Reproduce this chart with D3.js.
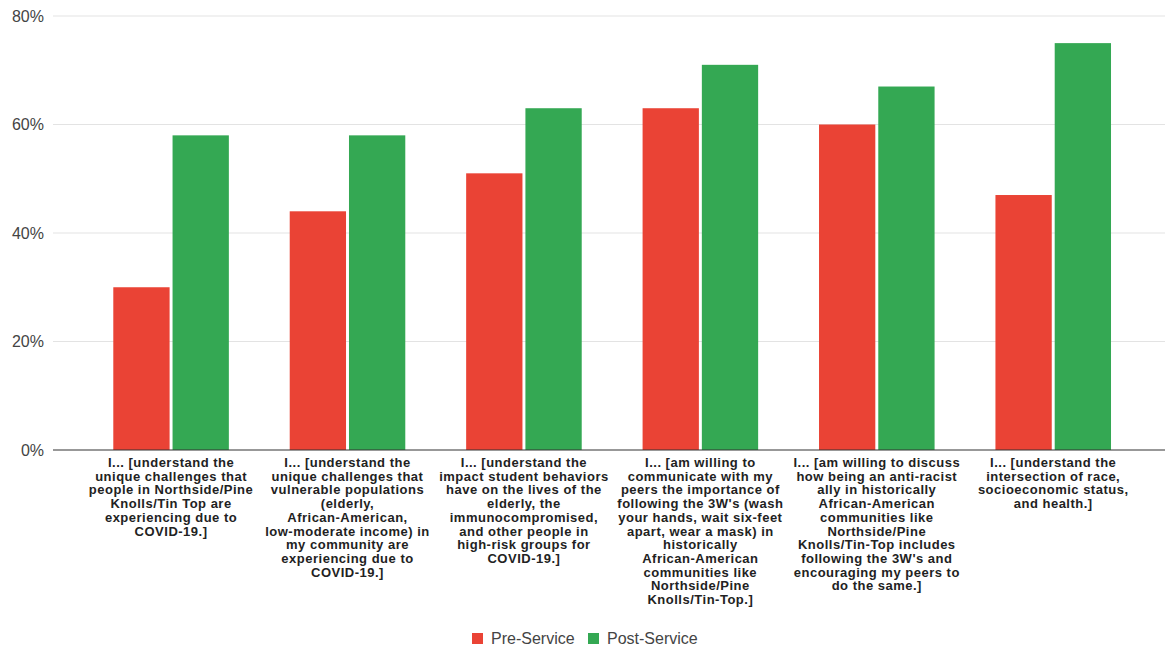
<!DOCTYPE html>
<html><head><meta charset="utf-8">
<script src="https://cdn.jsdelivr.net/npm/d3@7"></script>
<style>body{margin:0;background:#fff;}svg{display:block;}</style>
</head><body>
<svg id="c" width="1165" height="649"></svg>
<script>
const categories = [
  ["I... [understand the","unique challenges that","people in Northside/Pine","Knolls/Tin Top are","experiencing due to","COVID-19.]"],
  ["I... [understand the","unique challenges that","vulnerable populations","(elderly,","African-American,","low-moderate income) in","my community are","experiencing due to","COVID-19.]"],
  ["I... [understand the","impact student behaviors","have on the lives of the","elderly, the","immunocompromised,","and other people in","high-risk groups for","COVID-19.]"],
  ["I... [am willing to","communicate with my","peers the importance of","following the 3W's (wash","your hands, wait six-feet","apart, wear a mask) in","historically","African-American","communities  like","Northside/Pine","Knolls/Tin-Top.]"],
  ["I... [am willing to discuss","how being an anti-racist","ally in historically","African-American","communities like","Northside/Pine","Knolls/Tin-Top includes","following the 3W's and","encouraging my peers to","do the same.]"],
  ["I... [understand the","intersection of race,","socioeconomic status,","and health.]"]
];
const seriesNames = ["Pre-Service","Post-Service"];
const preService = [30, 44, 51, 63, 60, 47];
const postService = [58, 58, 63, 71, 67, 75];
const yTicks = [0, 20, 40, 60, 80];
const colors = ["#ea4335","#34a853"];

(function(){
const svg = d3.select("#c");
const mLeft = 53, mRight = 1165, mTop = 16, mBottom = 450;
const y = d3.scaleLinear().domain([0,80]).range([mBottom, mTop]);
const x0 = d3.scaleBand().domain(d3.range(categories.length)).range([83.3, 1141]).paddingInner(0.345).paddingOuter(0.17);
const x1 = d3.scaleBand().domain(seriesNames).range([0, x0.bandwidth()]).paddingInner(0.05);

svg.append("g").selectAll("line").data(yTicks.filter(t=>t>0)).join("line")
  .attr("x1", mLeft).attr("x2", mRight).attr("y1", d=>y(d)).attr("y2", d=>y(d))
  .attr("stroke", "#e3e3e3").attr("stroke-width", 1);

const yAxis = d3.axisLeft(y).tickValues(yTicks).tickFormat(d=>d+"%").tickSize(0).tickPadding(9);
const ya = svg.append("g").attr("transform", `translate(${mLeft},0)`).call(yAxis);
ya.select(".domain").remove();
ya.selectAll("text").attr("font-family","Liberation Sans, Arial, sans-serif").attr("font-size", 16).attr("fill","#444");

const data = categories.map((c,i)=>({i, vals:[preService[i], postService[i]]}));
const g = svg.append("g").selectAll("g").data(data).join("g").attr("transform", d=>`translate(${x0(d.i)},0)`);
g.selectAll("rect").data(d=>d.vals.map((v,k)=>({k,v}))).join("rect")
  .attr("x", d=>x1(seriesNames[d.k])).attr("width", x1.bandwidth())
  .attr("y", d=>y(d.v)).attr("height", d=>mBottom - y(d.v))
  .attr("fill", d=>colors[d.k]);

svg.append("line").attr("x1", mLeft).attr("x2", mRight).attr("y1", mBottom).attr("y2", mBottom)
  .attr("stroke", "#333").attr("stroke-width", 1.2);

const xl = svg.append("g").selectAll("text").data(categories).join("text")
  .attr("x", (d,i)=>x0(i)+x0.bandwidth()/2).attr("y", mBottom + 17)
  .attr("text-anchor","middle").attr("font-family","Liberation Sans, Arial, sans-serif")
  .attr("font-weight","bold").attr("font-size", 13).attr("letter-spacing", 0.5).attr("fill","#222");
xl.selectAll("tspan").data(d=>d).join("tspan")
  .attr("x", function(){return d3.select(this.parentNode).attr("x");})
  .attr("dy", (d,j)=>j===0?0:13.7).text(d=>d);

const legend = svg.append("g").attr("font-family","Liberation Sans, Arial, sans-serif").attr("font-size",16).attr("fill","#444");
const lx = [472, 588];
seriesNames.forEach((n,k)=>{
  legend.append("rect").attr("x", lx[k]).attr("y", 633).attr("width", 11).attr("height", 11).attr("fill", colors[k]);
  legend.append("text").attr("x", lx[k]+19).attr("y", 644).text(n);
});
})();
</script>
</body></html>
